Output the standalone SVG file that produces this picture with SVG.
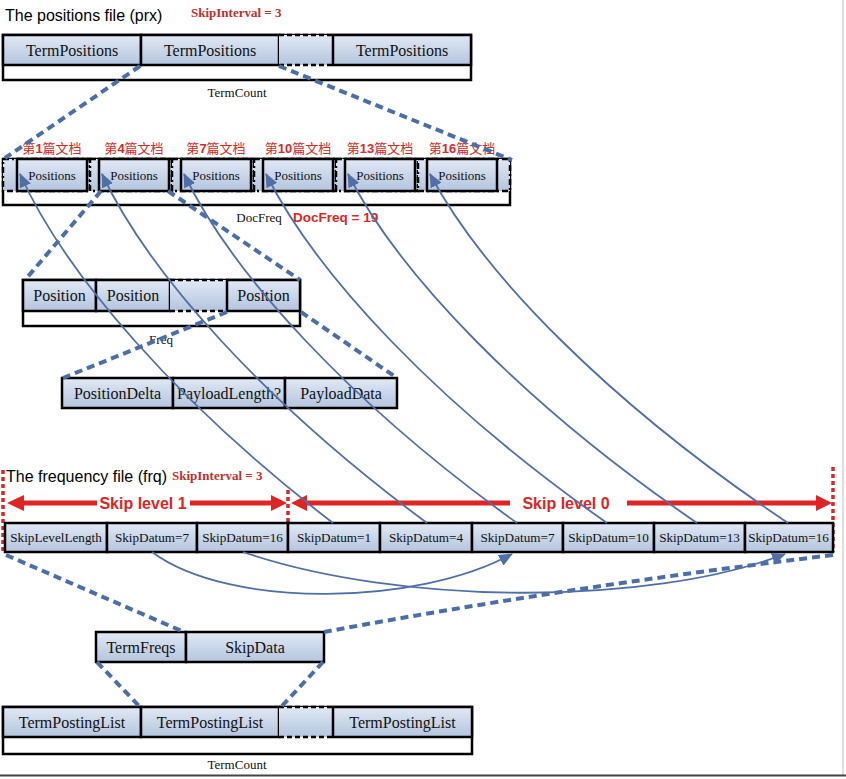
<svg xmlns="http://www.w3.org/2000/svg" width="846" height="779" viewBox="0 0 846 779">
<defs>
<linearGradient id="cellg" x1="0" y1="0" x2="0" y2="1">
<stop offset="0" stop-color="#e1e9f4"/>
<stop offset="1" stop-color="#b3c5de"/>
</linearGradient>
<marker id="ah" markerUnits="userSpaceOnUse" markerWidth="14" markerHeight="12" viewBox="0 0 14 12" refX="13" refY="6" orient="auto">
<path d="M0,0 L14,6 L0,12 Z" fill="#4f6fa8"/>
</marker>
<style>
.cell{fill:url(#cellg);stroke:#000;stroke-width:2.5}
.dcell{fill:url(#cellg);stroke:none}
.frame{fill:#fff;stroke:#000;stroke-width:2.5}
.dash{fill:none;stroke:#000;stroke-width:2.5;stroke-dasharray:5 3}
.ddot{fill:url(#cellg);stroke:#000;stroke-width:2.5;stroke-dasharray:6 3 2 3}
.t16{font-family:"Liberation Serif",serif;font-size:16px;fill:#111;text-anchor:middle}
.t13{font-family:"Liberation Serif",serif;font-size:13px;fill:#111;text-anchor:middle}
.t135{font-family:"Liberation Serif",serif;font-size:13.2px;fill:#111;text-anchor:middle}
.title{font-family:"Liberation Sans",sans-serif;font-size:16px;fill:#000}
.si{font-family:"Liberation Serif",serif;font-size:13px;font-weight:bold;fill:#c0302c}
.cn{font-family:"Liberation Sans","Noto Sans CJK SC",sans-serif;font-size:13px;fill:#d42a2a;text-anchor:middle}
.cn tspan{font-weight:bold}
.red{font-family:"Liberation Sans",sans-serif;font-weight:bold;fill:#e02424}
.bd{fill:none;stroke:#4a6fa8;stroke-width:4;stroke-dasharray:8 5}
.bc{fill:none;stroke:#4f6fa8;stroke-width:1.8}
.rl{stroke:#e02424;stroke-width:5}
.rh{fill:#e02424}
.rd{stroke:#e02424;stroke-width:3.5;stroke-dasharray:4 3}
</style>
</defs>
<rect x="0" y="0" width="846" height="779" fill="#fff"/>
<line x1="843" y1="0" x2="843" y2="776" stroke="#d4d4d4" stroke-width="1.5"/>
<line x1="0" y1="775.5" x2="846" y2="775.5" stroke="#444" stroke-width="2"/>

<g id="titles">
<text class="title" x="5" y="21">The positions file (prx)</text>
<text class="si" x="191" y="17">SkipInterval = 3</text>
<text class="title" x="6" y="482">The frequency file (frq)</text>
<text class="si" x="172" y="480">SkipInterval = 3</text>
</g>

<g id="prx-row">
<rect class="frame" x="3" y="35" width="468" height="45"/>
<rect class="cell" x="3" y="35" width="138" height="30"/>
<rect class="cell" x="141" y="35" width="138" height="30"/>
<rect class="dcell" x="279" y="35" width="54" height="30"/>
<path class="dash" d="M279,35 H333 M279,65 H333"/>
<rect class="cell" x="333" y="35" width="138" height="30"/>
<text class="t16" x="72" y="55.5">TermPositions</text>
<text class="t16" x="210" y="55.5">TermPositions</text>
<text class="t16" x="402" y="55.5">TermPositions</text>
<text class="t13" x="237" y="97">TermCount</text>
</g>

<g id="doc-row">
<rect class="frame" x="3" y="159" width="507" height="46"/>
<rect class="ddot" x="3" y="159" width="87" height="32"/>
<rect class="ddot" x="90" y="159" width="82" height="32"/>
<rect class="ddot" x="172" y="159" width="82" height="32"/>
<rect class="ddot" x="254" y="159" width="82" height="32"/>
<rect class="ddot" x="336" y="159" width="82" height="32"/>
<rect class="ddot" x="418" y="159" width="92" height="32"/>
<rect class="cell" x="17" y="159" width="70" height="32"/>
<rect class="cell" x="99" y="159" width="70" height="32"/>
<rect class="cell" x="181" y="159" width="70" height="32"/>
<rect class="cell" x="263" y="159" width="70" height="32"/>
<rect class="cell" x="345" y="159" width="70" height="32"/>
<rect class="cell" x="427" y="159" width="70" height="32"/>
<text class="t13" x="52" y="179.5">Positions</text>
<text class="t13" x="134" y="179.5">Positions</text>
<text class="t13" x="216" y="179.5">Positions</text>
<text class="t13" x="298" y="179.5">Positions</text>
<text class="t13" x="380" y="179.5">Positions</text>
<text class="t13" x="462" y="179.5">Positions</text>
<text class="cn" x="52" y="153">第<tspan>1</tspan>篇文档</text>
<text class="cn" x="134" y="153">第<tspan>4</tspan>篇文档</text>
<text class="cn" x="216" y="153">第<tspan>7</tspan>篇文档</text>
<text class="cn" x="298" y="153">第<tspan>10</tspan>篇文档</text>
<text class="cn" x="380" y="153">第<tspan>13</tspan>篇文档</text>
<text class="cn" x="462" y="153">第<tspan>16</tspan>篇文档</text>
<text class="t13" x="259" y="222">DocFreq</text>
<text class="red" x="293" y="222" font-size="13.5">DocFreq = 19</text>
</g>

<g id="position-row">
<rect class="frame" x="23" y="280" width="277" height="46"/>
<rect class="cell" x="23" y="280" width="73" height="31"/>
<rect class="cell" x="96" y="280" width="74" height="31"/>
<rect class="dcell" x="170" y="280" width="57" height="31"/>
<path class="dash" d="M170,280 H227 M170,311 H227"/>
<rect class="cell" x="227" y="280" width="73" height="31"/>
<text class="t16" x="59.5" y="301">Position</text>
<text class="t16" x="133" y="301">Position</text>
<text class="t16" x="263.5" y="301">Position</text>
<text class="t13" x="161" y="344">Freq</text>
</g>

<g id="payload-row">
<rect class="cell" x="62" y="378" width="111" height="30"/>
<rect class="cell" x="173" y="378" width="112" height="30"/>
<rect class="cell" x="285" y="378" width="112" height="30"/>
<text class="t16" x="117.5" y="398.5">PositionDelta</text>
<text class="t16" x="229" y="398.5">PayloadLength?</text>
<text class="t16" x="341" y="398.5">PayloadData</text>
</g>

<g id="skip-levels">
<line class="rd" x1="3" y1="470" x2="3" y2="552"/>
<line class="rd" x1="288" y1="490" x2="288" y2="552"/>
<line class="rd" x1="833" y1="467" x2="833" y2="552"/>
<polygon class="rh" points="7,503 24,495 24,511"/>
<line class="rl" x1="24" y1="503" x2="97" y2="503"/>
<line class="rl" x1="190" y1="503" x2="271" y2="503"/>
<polygon class="rh" points="271,495 287,503 271,511"/>
<text class="red" x="143" y="509" font-size="16" text-anchor="middle">Skip level 1</text>
<polygon class="rh" points="291,503 307,495 307,511"/>
<line class="rl" x1="307" y1="503" x2="510" y2="503"/>
<line class="rl" x1="627" y1="503" x2="816" y2="503"/>
<polygon class="rh" points="816,495 832,503 816,511"/>
<text class="red" x="566" y="509" font-size="16" text-anchor="middle">Skip level 0</text>
</g>

<g id="skip-row">
<rect class="cell" x="5" y="523" width="102" height="29"/>
<rect class="cell" x="107" y="523" width="90" height="29"/>
<rect class="cell" x="197" y="523" width="91" height="29"/>
<rect class="cell" x="288" y="523" width="92" height="29"/>
<rect class="cell" x="380" y="523" width="92" height="29"/>
<rect class="cell" x="472" y="523" width="91" height="29"/>
<rect class="cell" x="563" y="523" width="91" height="29"/>
<rect class="cell" x="654" y="523" width="91" height="29"/>
<rect class="cell" x="745" y="523" width="88" height="29"/>
<text class="t135" x="56" y="542">SkipLevelLength</text>
<text class="t135" x="152" y="542">SkipDatum=7</text>
<text class="t135" x="242.5" y="542">SkipDatum=16</text>
<text class="t135" x="334" y="542">SkipDatum=1</text>
<text class="t135" x="426" y="542">SkipDatum=4</text>
<text class="t135" x="517.5" y="542">SkipDatum=7</text>
<text class="t135" x="608.5" y="542">SkipDatum=10</text>
<text class="t135" x="699.5" y="542">SkipDatum=13</text>
<text class="t135" x="788.5" y="542">SkipDatum=16</text>
</g>

<g id="termfreqs-row">
<rect class="cell" x="96" y="632" width="90" height="30"/>
<rect class="cell" x="186" y="632" width="138" height="30"/>
<text class="t16" x="141" y="652.5">TermFreqs</text>
<text class="t16" x="255" y="652.5">SkipData</text>
</g>

<g id="postinglist-row">
<rect class="frame" x="3" y="707" width="469" height="47"/>
<rect class="cell" x="3" y="707" width="138" height="30"/>
<rect class="cell" x="141" y="707" width="138" height="30"/>
<rect class="dcell" x="279" y="707" width="54" height="30"/>
<path class="dash" d="M279,707 H333 M279,737 H333"/>
<rect class="cell" x="333" y="707" width="139" height="30"/>
<text class="t16" x="72" y="727.5">TermPostingList</text>
<text class="t16" x="210" y="727.5">TermPostingList</text>
<text class="t16" x="402.5" y="727.5">TermPostingList</text>
<text class="t13" x="237" y="769">TermCount</text>
</g>

<g id="connectors">
<path class="bd" d="M140,66 L5,158"/>
<path class="bd" d="M279,66 L512,160"/>
<path class="bd" d="M101,191 L25,280"/>
<path class="bd" d="M168,191 L300,280"/>
<path class="bd" d="M227,312 L63,378"/>
<path class="bd" d="M301,312 L397,378"/>
<path class="bd" d="M6,555 L184,632"/>
<path class="bd" d="M833,555 Q560,588 324,632"/>
<path class="bd" d="M97,662 L140,707"/>
<path class="bd" d="M323,662 L281,707"/>
<path class="bc" marker-end="url(#ah)" d="M333,523 C177,403 65,274 20,174"/>
<path class="bc" marker-end="url(#ah)" d="M427,523 C265,403 149,274 102,174"/>
<path class="bc" marker-end="url(#ah)" d="M517,523 C350,403 232,274 184,174"/>
<path class="bc" marker-end="url(#ah)" d="M607,523 C436,403 316,274 266,174"/>
<path class="bc" marker-end="url(#ah)" d="M697,523 C522,403 399,274 348,174"/>
<path class="bc" marker-end="url(#ah)" d="M788,523 C609,403 483,274 430,174"/>
<path class="bc" marker-end="url(#ah)" d="M152,552 C230,610 420,605 512,554"/>
<path class="bc" marker-end="url(#ah)" d="M243,552 C400,606 650,606 785,554"/>
</g>
</svg>
